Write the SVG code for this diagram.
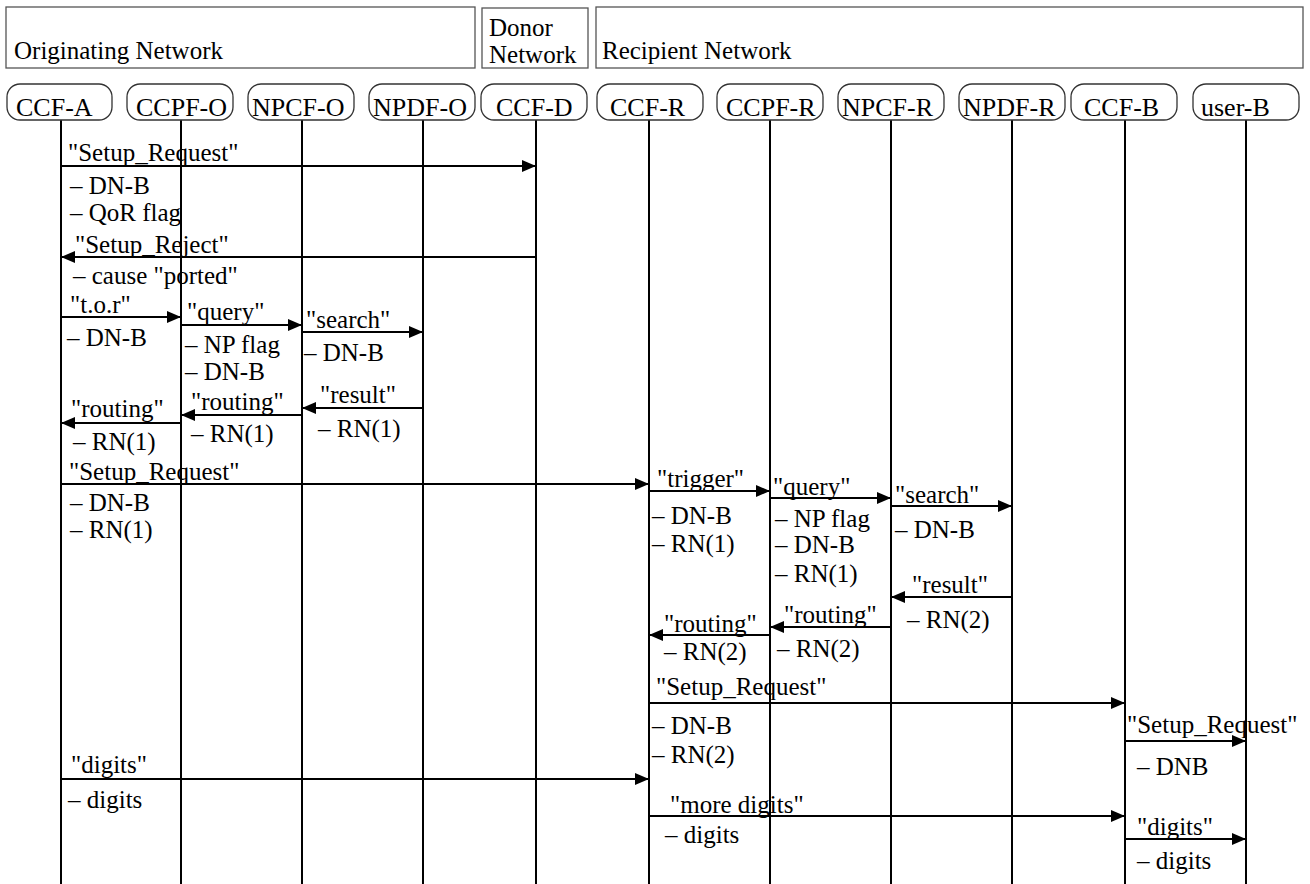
<svg xmlns="http://www.w3.org/2000/svg" width="1310" height="884" viewBox="0 0 1310 884">
<defs>
<style>
text{font-family:"Liberation Serif","Times New Roman",serif;font-size:25px;fill:#000}
.node text{font-size:26px}
.hdr{fill:#fff;stroke:#555;stroke-width:1.3}
.node rect{fill:#fff;stroke:#333;stroke-width:1.3}
.life line{stroke:#000;stroke-width:2}
.msg line{stroke:#000;stroke-width:2;marker-end:url(#ah)}
</style>
<marker id="ah" markerUnits="userSpaceOnUse" markerWidth="14" markerHeight="12" refX="14" refY="6" orient="auto">
<path d="M0,0 L14,6 L0,12 z" fill="#000"/>
</marker>
</defs>
<rect width="1310" height="884" fill="#fff"/>
<g id="networks">
<rect class="hdr" x="6" y="7" width="469" height="61"/>
<text x="14" y="59">Originating Network</text>
<rect class="hdr" x="482" y="8" width="106" height="60"/>
<text x="489" y="36">Donor</text>
<text x="489" y="63">Network</text>
<rect class="hdr" x="596" y="7" width="707" height="61"/>
<text x="602" y="59">Recipient Network</text>
</g>
<g class="life" id="lifelines">
<line x1="61" y1="120" x2="61" y2="884"/>
<line x1="181" y1="120" x2="181" y2="884"/>
<line x1="302" y1="120" x2="302" y2="884"/>
<line x1="423" y1="120" x2="423" y2="884"/>
<line x1="536" y1="120" x2="536" y2="884"/>
<line x1="649" y1="120" x2="649" y2="884"/>
<line x1="770" y1="120" x2="770" y2="884"/>
<line x1="891" y1="120" x2="891" y2="884"/>
<line x1="1012" y1="120" x2="1012" y2="884"/>
<line x1="1125" y1="120" x2="1125" y2="884"/>
<line x1="1246" y1="120" x2="1246" y2="884"/>
</g>
<g class="node" id="ccf-a"><rect x="7" y="84" width="105" height="36" rx="13"/><text x="16" y="116">CCF-A</text></g>
<g class="node" id="ccpf-o"><rect x="127" y="84" width="106" height="36" rx="13"/><text x="136" y="116">CCPF-O</text></g>
<g class="node" id="npcf-o"><rect x="248" y="84" width="106" height="36" rx="13"/><text x="252" y="116">NPCF-O</text></g>
<g class="node" id="npdf-o"><rect x="369" y="84" width="106" height="36" rx="13"/><text x="373" y="116">NPDF-O</text></g>
<g class="node" id="ccf-d"><rect x="481" y="84" width="106" height="36" rx="13"/><text x="496" y="116">CCF-D</text></g>
<g class="node" id="ccf-r"><rect x="597" y="84" width="106" height="36" rx="13"/><text x="610" y="116">CCF-R</text></g>
<g class="node" id="ccpf-r"><rect x="717" y="84" width="106" height="36" rx="13"/><text x="726" y="116">CCPF-R</text></g>
<g class="node" id="npcf-r"><rect x="838" y="84" width="106" height="36" rx="13"/><text x="842" y="116">NPCF-R</text></g>
<g class="node" id="npdf-r"><rect x="959" y="84" width="106" height="36" rx="13"/><text x="963" y="116">NPDF-R</text></g>
<g class="node" id="ccf-b"><rect x="1071" y="84" width="106" height="36" rx="13"/><text x="1084" y="116">CCF-B</text></g>
<g class="node" id="user-b"><rect x="1193" y="84" width="106" height="36" rx="13"/><text x="1201" y="116">user-B</text></g>
<g class="msg" id="connectors">
<line x1="61" y1="166" x2="536" y2="166"/>
<line x1="536" y1="257" x2="61" y2="257"/>
<line x1="61" y1="317" x2="181" y2="317"/>
<line x1="181" y1="325" x2="302" y2="325"/>
<line x1="302" y1="332" x2="423" y2="332"/>
<line x1="423" y1="408" x2="302" y2="408"/>
<line x1="302" y1="415" x2="181" y2="415"/>
<line x1="181" y1="423" x2="61" y2="423"/>
<line x1="61" y1="484" x2="649" y2="484"/>
<line x1="649" y1="491" x2="770" y2="491"/>
<line x1="770" y1="498" x2="891" y2="498"/>
<line x1="891" y1="506" x2="1012" y2="506"/>
<line x1="1012" y1="597" x2="891" y2="597"/>
<line x1="891" y1="627" x2="770" y2="627"/>
<line x1="770" y1="635" x2="649" y2="635"/>
<line x1="649" y1="703" x2="1125" y2="703"/>
<line x1="1125" y1="741" x2="1246" y2="741"/>
<line x1="61" y1="779" x2="649" y2="779"/>
<line x1="649" y1="816" x2="1125" y2="816"/>
<line x1="1125" y1="839" x2="1246" y2="839"/>
</g>
<g id="labels">
<text x="68" y="161">"Setup_Request"</text>
<text x="70" y="194">– DN-B</text>
<text x="70" y="221">– QoR flag</text>
<text x="75" y="253">"Setup_Reject"</text>
<text x="73" y="284">– cause "ported"</text>
<text x="70" y="313">"t.o.r"</text>
<text x="67" y="346">– DN-B</text>
<text x="187" y="320">"query"</text>
<text x="185" y="353">– NP flag</text>
<text x="185" y="380">– DN-B</text>
<text x="306" y="328">"search"</text>
<text x="304" y="361">– DN-B</text>
<text x="320" y="403">"result"</text>
<text x="318" y="437">– RN(1)</text>
<text x="191" y="410">"routing"</text>
<text x="191" y="442">– RN(1)</text>
<text x="71" y="417">"routing"</text>
<text x="73" y="450">– RN(1)</text>
<text x="69" y="480">"Setup_Request"</text>
<text x="70" y="511">– DN-B</text>
<text x="70" y="538">– RN(1)</text>
<text x="657" y="487">"trigger"</text>
<text x="652" y="524">– DN-B</text>
<text x="652" y="552">– RN(1)</text>
<text x="773" y="495">"query"</text>
<text x="775" y="527">– NP flag</text>
<text x="775" y="553">– DN-B</text>
<text x="775" y="582">– RN(1)</text>
<text x="895" y="503">"search"</text>
<text x="895" y="538">– DN-B</text>
<text x="912" y="593">"result"</text>
<text x="907" y="628">– RN(2)</text>
<text x="784" y="623">"routing"</text>
<text x="777" y="657">– RN(2)</text>
<text x="664" y="632">"routing"</text>
<text x="664" y="660">– RN(2)</text>
<text x="656" y="695">"Setup_Request"</text>
<text x="652" y="734">– DN-B</text>
<text x="652" y="763">– RN(2)</text>
<text x="1127" y="733">"Setup_Request"</text>
<text x="1137" y="775">– DNB</text>
<text x="71" y="773">"digits"</text>
<text x="68" y="808">– digits</text>
<text x="670" y="813">"more digits"</text>
<text x="665" y="843">– digits</text>
<text x="1137" y="835">"digits"</text>
<text x="1137" y="869">– digits</text>
</g>
</svg>
